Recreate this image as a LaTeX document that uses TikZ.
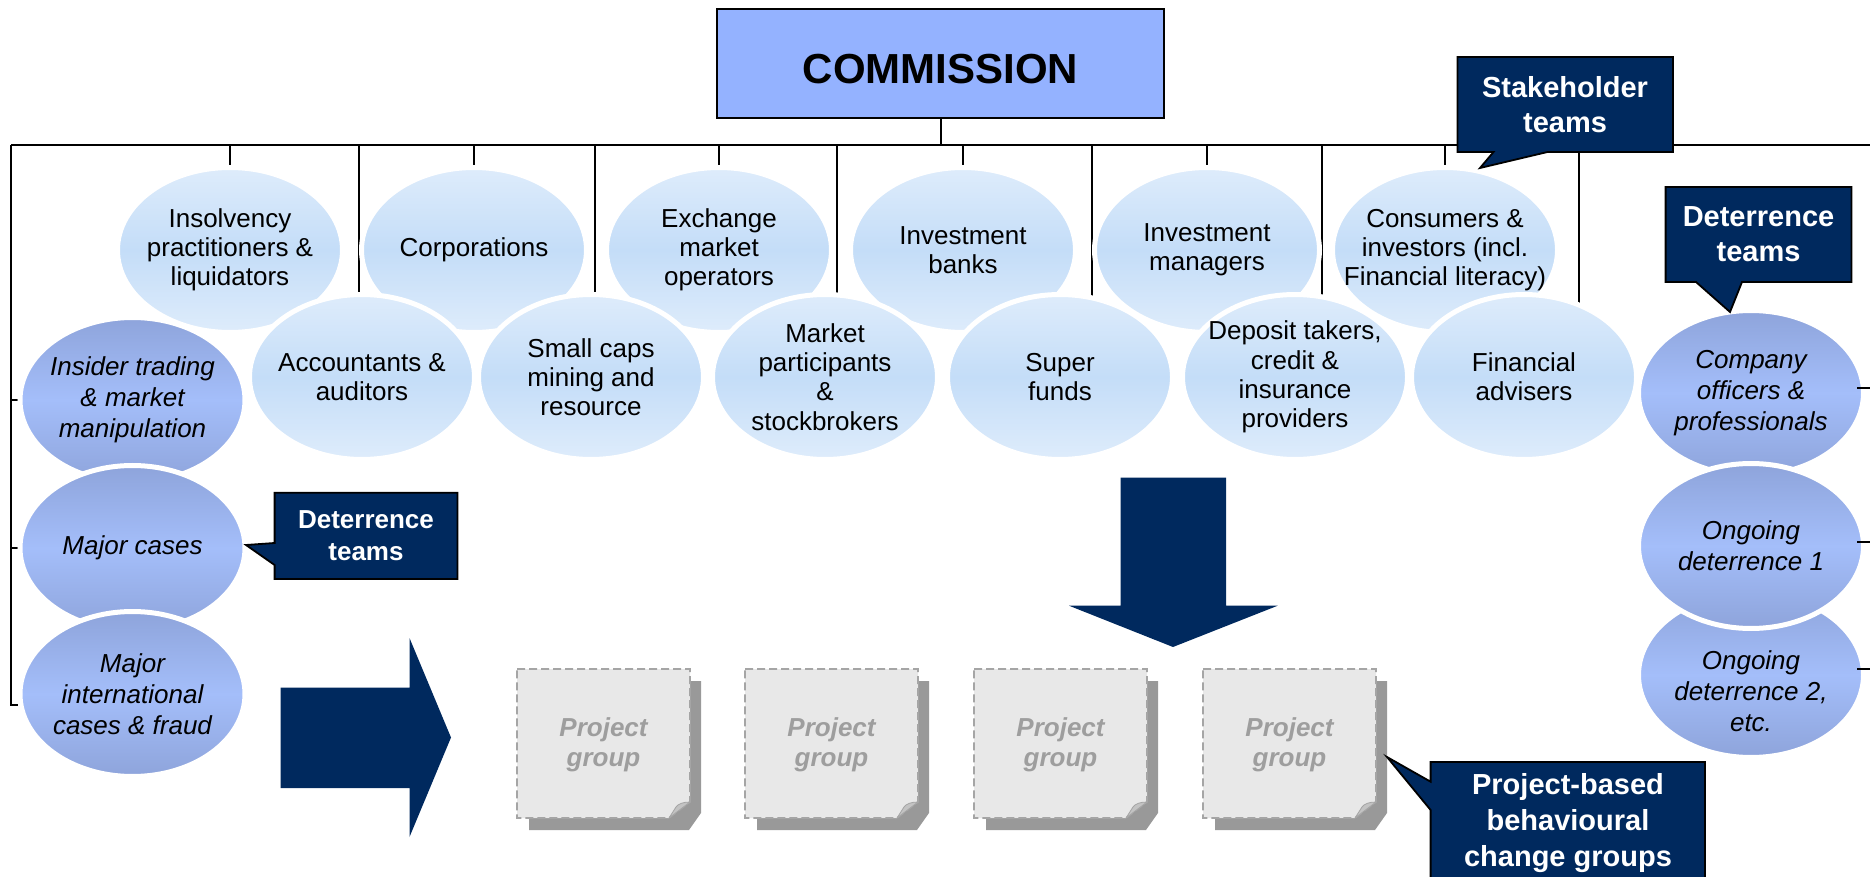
\documentclass[tikz,border=0pt]{standalone}
\usepackage{fontspec}
\setmainfont{Liberation Sans}
\setsansfont{Liberation Sans}
\usetikzlibrary{shapes.geometric}
\pgfdeclarelayer{background}
\pgfsetlayers{background,main}
\definecolor{navy}{RGB}{0,41,94}
\definecolor{comfill}{RGB}{148,178,255}
\definecolor{stkA}{RGB}{222,236,251}
\definecolor{stkB}{RGB}{196,221,248}
\definecolor{detA}{RGB}{142,164,219}
\definecolor{detB}{RGB}{164,190,250}
\definecolor{pgfill}{RGB}{232,232,232}
\definecolor{pgline}{RGB}{165,165,165}
\definecolor{pgshadow}{RGB}{153,153,153}
\definecolor{pgfold}{RGB}{195,195,195}
\definecolor{pgtext}{RGB}{158,158,158}
\begin{document}
\begin{tikzpicture}[x=0.5pt,y=-0.5pt,
  conn/.style={draw=black,line width=1pt},
  ellbase/.style={ellipse,draw=white,line width=2.5pt,inner xsep=-30pt,inner ysep=-12pt,
    minimum width=112.5pt,minimum height=82.5pt,align=center},
  stk/.style={ellbase,top color=stkA,bottom color=stkA,middle color=stkB,
    font=\fontsize{13}{14.6}\selectfont},
  det/.style={ellbase,top color=detA,bottom color=detA,middle color=detB,
    font=\itshape\fontsize{13}{15.5}\selectfont},
  dettext/.style={align=center,inner sep=0pt,font=\itshape\fontsize{13}{15.5}\selectfont},
  comm/.style={draw=black,line width=1pt,fill=comfill,minimum width=223.5pt,minimum height=54.5pt,
    inner sep=0pt,font=\bfseries\fontsize{21}{25}\selectfont,text height=20pt,text depth=0pt},
  callout/.style={fill=navy,draw=black,line width=0.9pt,line join=miter},
  ctext/.style={text=white,align=center,inner sep=0pt,font=\bfseries\fontsize{14.5}{17.5}\selectfont},
  arrowfill/.style={fill=navy},
  pgbox/.style={fill=pgfill,draw=pgline,line width=0.8pt,dash pattern=on 4pt off 2pt},
  pgshade/.style={fill=pgshadow},
  pgcurl/.style={fill=pgfold,draw=pgline,line width=0.4pt},
  pgtxt/.style={text=pgtext,align=center,inner sep=0pt,font=\bfseries\itshape\fontsize{13}{15}\selectfont}
]
\useasboundingbox (0,0) rectangle (1870,877);
\clip (0,0) rectangle (1870,877);

% commission
\node[comm] (com) at (940.5,63.5) {COMMISSION};

% bus coordinates
\coordinate (busL) at (11,145);
\coordinate (busR) at (1870,145);
\coordinate (lowL) at (11,705);
\coordinate (k1) at (358.5,145);
\coordinate (k2) at (595,145);
\coordinate (k3) at (837,145);
\coordinate (k4) at (1092,145);
\coordinate (k5) at (1321.5,145);
\coordinate (k6) at (1579,145);

% top row stakeholder teams
\node[stk] (t1) at (230,250) {Insolvency\\practitioners \&\\liquidators};
\node[stk] (t2) at (474,250) {Corporations};
\node[stk] (t3) at (719,250) {Exchange\\market\\operators};
\node[stk] (t4) at (963,250) {Investment\\banks};
\node[stk] (t5) at (1207,250) {Investment\\managers};
\node[stk] (t6) at (1445,250) {Consumers \&\\investors (incl.\\Financial literacy)};

% bottom row stakeholder teams
\node[stk] (b1) at (362,377) {Accountants \&\\auditors};
\node[stk] (b2) at (591,377) {Small caps\\mining and\\resource};
\node[stk] (b3) at (825,377) {Market\\participants\\\&\\stockbrokers};
\node[stk] (b4) at (1060,377) {Super\\funds};
\node[stk] (b5) at (1295,377) {Deposit takers,\\credit \&\\insurance\\providers};
\node[stk] (b6) at (1524,377) {Financial\\advisers};

% left deterrence column
\node[det] (l1) at (132.5,400) {Insider trading\\\& market\\manipulation};
\node[det] (l2) at (132.5,548) {Major cases};
\node[det] (l3) at (132.5,694) {Major\\international\\cases \& fraud};

% right deterrence column
\node[det] (r1) at (1751,393) {Company\\officers \&\\professionals};
\node[det] (r3) at (1751,675) {};
\node[dettext] (r3t) at (1751,691) {Ongoing\\deterrence 2,\\etc.};
\node[det] (r2) at (1751,546) {Ongoing\\deterrence 1};

% connectors behind the ellipses
\begin{pgfonlayer}{background}
\draw[conn] (com.south) -- (com.south |- busL);
\draw[conn] (busL) -- (busR);
\foreach \n in {t1,t2,t3,t4,t5,t6}{\draw[conn] (\n.north |- busL) -- (\n.north);}
\draw[conn] (k1) -- (k1 |- b1.center);
\draw[conn] (k2) -- (k2 |- b2.center);
\draw[conn] (k3) -- (k3 |- b3.center);
\draw[conn] (k4) -- (k4 |- b4.center);
\draw[conn] (k5) -- (k5 |- b5.center);
\draw[conn] (k6) -- (k6 |- b6.center);
\draw[conn] (busL) -- (lowL) -- (lowL -| l3.west);
\draw[conn] (busL |- l1.west) -- (l1.west);
\draw[conn] (busL |- l2.west) -- (l2.west);
\end{pgfonlayer}

% right-hand ticks
\draw[conn] ([yshift=2.5pt]r1.center -| busR) -- ++(-13,0);
\draw[conn] ([yshift=2pt]r2.center -| busR) -- ++(-13,0);
\draw[conn] ([yshift=3pt]r3.center -| busR) -- ++(-13,0);

% callouts
\filldraw[callout] (1457.5,57) -- (1673,57) -- (1673,152) -- (1547.5,152) -- (1480,168)
  -- (1493.5,152) -- (1457.5,152) -- cycle;
\node[ctext] (stkc) at (1565,104.5) {Stakeholder\\teams};

\filldraw[callout] (1665.6,187) -- (1851.5,187) -- (1851.5,282) -- (1742,282) -- (1730,312)
  -- (1696,282) -- (1665.6,282) -- cycle;
\node[ctext] (detR) at (1758.5,234.5) {Deterrence\\teams};

\filldraw[callout] (274.6,492.7) -- (457.4,492.7) -- (457.4,579) -- (274.6,579) -- (274.6,565)
  -- (246,545) -- (274.6,543) -- cycle;
\node[ctext,font=\bfseries\fontsize{13}{16}\selectfont] (detL) at (366,536) {Deterrence\\teams};

% big arrows
\fill[arrowfill] (280.6,687.7) -- (409.5,687.7) -- (409.5,638) -- (451,737.5) -- (409.5,837)
  -- (409.5,788) -- (280.6,788) -- cycle;
\fill[arrowfill] (1120.6,477.7) -- (1226,477.7) -- (1226,605.7) -- (1277.7,605.7) -- (1173,647)
  -- (1069,605.7) -- (1120.6,605.7) -- cycle;

% project groups
\foreach \i/\x in {1/517,2/745,3/974,4/1203}{
  \fill[pgshade] (\x+12,681) -- (\x+184,681) -- (\x+184,813) -- (\x+172,830) -- (\x+12,830) -- cycle;
  \path[pgbox] (\x,669) -- (\x+173,669) -- (\x+173,802) -- (\x+152,818) -- (\x,818) -- cycle;
  \path[pgcurl] (\x+173,802) .. controls (\x+166,802) and (\x+161,804) .. (\x+159,807)
    -- (\x+152,818) -- cycle;
  \node[pgtxt] (pg\i) at (\x+86.5,745) {Project\\group};
}

\filldraw[callout] (1430.6,762) -- (1705,762) -- (1705,900) -- (1430.6,900) -- (1430.6,810)
  -- (1387,757) -- (1430.6,781.7) -- cycle;
\node[ctext,font=\bfseries\fontsize{14.5}{18}\selectfont] (pbc) at (1568,823)
  {Project-based\\behavioural\\change groups};
\end{tikzpicture}
\end{document}
